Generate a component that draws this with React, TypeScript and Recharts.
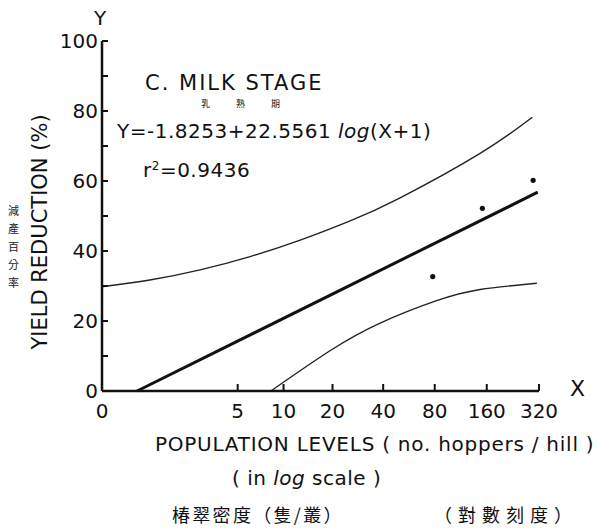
import { ComposedChart, Line, Scatter, XAxis, YAxis } from 'recharts';

// population levels (X) and yield reduction (%)
const xTickLabels = [0, 5, 10, 20, 40, 80, 160, 320];
const yTicks = [0, 10, 20, 30, 40, 50, 60, 70, 80, 90, 100];

const pointX = [77.9, 151, 296];
const pointY = [32.7, 52.2, 60.2];

const regX = [0.59, 314.7];
const regY = [0, 56.8];

const upperX = [0, 0.88, 2.65, 6.07, 12.7, 25.5, 50.3, 146.5, 293];
const upperY = [29.8, 31.7, 34.6, 38.4, 43.1, 48.6, 55.2, 67.9, 78.2];

const lowerX = [8.3, 19.3, 38.4, 82, 146.5, 311];
const lowerY = [0, 11.5, 19.4, 25.8, 29.0, 30.8];

// log(X+1) axis
const toRows = (xs: number[], ys: number[]) => xs.map((x, i) => ({ x: x + 1, y: ys[i] }));

const points = toRows(pointX, pointY);
const regLine = toRows(regX, regY);
const upper = toRows(upperX, upperY);
const lower = toRows(lowerX, lowerY);

const FONT = '"DejaVu Sans", sans-serif';
const CJK = '"Noto Sans CJK TC", sans-serif';

function YTick(props: any) {
  const { x, y, payload } = props;
  const v = payload.value;
  return (
    <g>
      <line x1={x} x2={x + 6} y1={y} y2={y} stroke="#111" strokeWidth={2} />
      {v % 20 === 0 && (
        <text x={x - 4} y={y} textAnchor="end" dominantBaseline="central" fontSize={20} fontFamily={FONT} fill="#111">
          {v}
        </text>
      )}
    </g>
  );
}

function XTick(props: any) {
  const { x, y, payload } = props;
  const v = payload.value;
  return (
    <g>
      {v > 1 && <line x1={x} x2={x} y1={y} y2={y - 7} stroke="#111" strokeWidth={2} />}
      <text x={x} y={y + 20} textAnchor="middle" dominantBaseline="central" fontSize={20} fontFamily={FONT} fill="#111">
        {v - 1}
      </text>
    </g>
  );
}

const Dot = (props: any) => <circle cx={props.cx} cy={props.cy} r={2.6} fill="#111" />;

function T(props: { x: number; y: number; size: number; children: any; style?: any }) {
  return (
    <div
      style={{
        position: 'absolute',
        left: props.x,
        top: props.y,
        transform: 'translateY(-50%)',
        fontSize: props.size,
        lineHeight: 1,
        fontFamily: FONT,
        color: '#111',
        whiteSpace: 'nowrap',
        ...props.style
      }}
    >
      {props.children}
    </div>
  );
}

export default function App() {
  return (
    <div style={{ position: 'absolute', left: 0, top: 0, width: 597, height: 528, background: '#fff' }}>
      <ComposedChart width={597} height={528} margin={{ top: 41, right: 58, bottom: 107, left: 0 }}>
        <XAxis
          dataKey="x"
          type="number"
          scale="log"
          domain={[1, 321]}
          ticks={xTickLabels.map((t) => t + 1)}
          interval={0}
          allowDataOverflow
          height={30}
          tickSize={0}
          tickMargin={0}
          tick={<XTick />}
          axisLine={{ stroke: '#111', strokeWidth: 2.5 }}
          tickLine={false}
        />
        <YAxis
          dataKey="y"
          type="number"
          domain={[0, 100]}
          ticks={yTicks}
          interval={0}
          width={102}
          tickSize={0}
          tickMargin={0}
          tick={<YTick />}
          axisLine={{ stroke: '#111', strokeWidth: 2.5 }}
          tickLine={false}
        />
        <Line data={upper} dataKey="y" type="natural" stroke="#222" strokeWidth={1.4} dot={false} isAnimationActive={false} />
        <Line data={lower} dataKey="y" type="natural" stroke="#222" strokeWidth={1.4} dot={false} isAnimationActive={false} />
        <Line data={regLine} dataKey="y" type="linear" stroke="#111" strokeWidth={3} dot={false} isAnimationActive={false} />
        <Scatter data={points} dataKey="y" shape={<Dot />} isAnimationActive={false} />
      </ComposedChart>

      <T x={94} y={18} size={20}>Y</T>
      <T x={570} y={389} size={22}>X</T>

      <T x={145} y={83} size={21} style={{ letterSpacing: 2 }}>C. MILK STAGE</T>
      <T x={201} y={103} size={9} style={{ fontFamily: CJK, letterSpacing: 26 }}>乳熟期</T>
      <T x={117} y={131} size={20} style={{ letterSpacing: 0.5 }}>
        Y=-1.8253+22.5561 <i>log</i>(X+1)
      </T>
      <T x={143} y={170} size={20} style={{ letterSpacing: 0.5 }}>
        r<sup style={{ fontSize: 12 }}>2</sup>=0.9436
      </T>

      <div
        style={{
          position: 'absolute',
          left: 40,
          top: 232,
          transform: 'translate(-50%, -50%) rotate(-90deg)',
          fontSize: 21,
          lineHeight: 1,
          fontFamily: FONT,
          color: '#111',
          whiteSpace: 'nowrap'
        }}
      >
        YIELD REDUCTION (%)
      </div>
      <div
        style={{
          position: 'absolute',
          left: 8,
          top: 201,
          width: 12,
          fontSize: 11,
          lineHeight: '18px',
          fontFamily: CJK,
          color: '#222'
        }}
      >
        減產百分率
      </div>

      <T x={155} y={444} size={20} style={{ letterSpacing: 0.75 }}>POPULATION LEVELS ( no. hoppers / hill )</T>
      <T x={232} y={478} size={20} style={{ letterSpacing: 0.5 }}>
        ( in <i>log</i> scale )
      </T>
      <T x={172} y={514} size={18} style={{ fontFamily: CJK, letterSpacing: 2.3 }}>椿翠密度（隻/叢）</T>
      <T x={434} y={514} size={18} style={{ fontFamily: CJK, letterSpacing: 6 }}>（對數刻度）</T>
    </div>
  );
}
